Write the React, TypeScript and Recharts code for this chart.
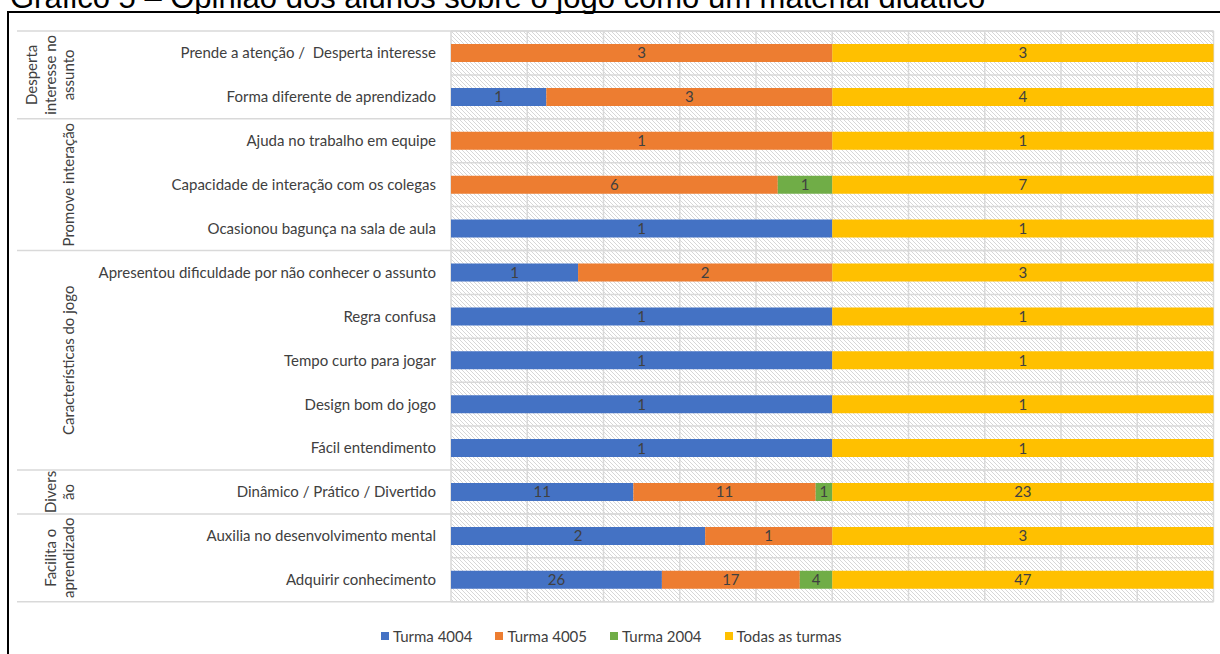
import React from 'react';
import { BarChart, Bar, XAxis, YAxis, CartesianGrid, Legend, LabelList } from 'recharts';

// ---- data ----
const categories = [
  'Prende a atenção /  Desperta interesse',
  'Forma diferente de aprendizado',
  'Ajuda no trabalho em equipe',
  'Capacidade de interação com os colegas',
  'Ocasionou bagunça na sala de aula',
  'Apresentou dificuldade por não conhecer o assunto',
  'Regra confusa',
  'Tempo curto para jogar',
  'Design bom do jogo',
  'Fácil entendimento',
  'Dinâmico / Prático / Divertido',
  'Auxilia no desenvolvimento mental',
  'Adquirir conhecimento',
];
const turma4004 = [0, 1, 0, 0, 1, 1, 1, 1, 1, 1, 11, 2, 26];
const turma4005 = [3, 3, 1, 6, 0, 2, 0, 0, 0, 0, 11, 1, 17];
const turma2004 = [0, 0, 0, 1, 0, 0, 0, 0, 0, 0, 1, 0, 4];
const todasTurmas = [3, 4, 1, 7, 1, 3, 1, 1, 1, 1, 23, 3, 47];

const groupLabels = [
  ['Desperta', 'interesse no', 'assunto'],
  ['Promove interação'],
  ['Características do jogo'],
  ['Divers', 'ão'],
  ['Facilita o', 'aprendizado'],
];
const groupSizes = [2, 3, 5, 1, 2];

const seriesNames = ['Turma 4004', 'Turma 4005', 'Turma 2004', 'Todas as turmas'];
const gridSteps = [0, 0.1, 0.2, 0.3, 0.4, 0.5, 0.6, 0.7, 0.8, 0.9, 1];

const TITLE = 'Gráfico 5 – Opinião dos alunos sobre o jogo como um material didático';

// ---- layout / style ----
const CHART_W = 1211;
const CHART_H = 650;
const LEGEND_H = 46;
const MARGIN = { top: 18, right: 6.5, bottom: 15.3, left: 0 };
const PLOT_RIGHT = CHART_W - MARGIN.right;
const DIVIDER_LEFT = 8;
const GROUP_BASELINE_X = 65;
const GROUP_LINE_GAP = 18.5;
const FONT = "Lato, 'Open Sans', sans-serif";
const FONT_SIZE = 15;
const TEXT_COLOR = '#404040';
const GRID_COLOR = '#d9d9d9';
const COLORS = ['#4472C4', '#ED7D31', '#70AD47', '#FFC000'];
const KEYS = ['t4004', 't4005', 't2004', 'todas'];

const data = categories.map((name, i) => ({
  name,
  t4004: turma4004[i],
  t4005: turma4005[i],
  t2004: turma2004[i],
  todas: todasTurmas[i],
}));

const groupStarts = groupSizes.map((_, g) => groupSizes.slice(0, g).reduce((a, b) => a + b, 0));

function CategoryTick(props: any) {
  const { x, y, payload } = props;
  const i: number = typeof props.index === 'number' ? props.index : payload.index;
  const band = (y - MARGIN.top) / (i + 0.5);
  const top = y - band / 2;
  const parts: React.ReactNode[] = [];
  parts.push(
    <text
      key="label"
      x={x}
      y={y}
      dy="0.36em"
      textAnchor="end"
      fontFamily={FONT}
      fontSize={FONT_SIZE}
      fill={TEXT_COLOR}
      style={{ whiteSpace: 'pre' }}
    >
      {payload.value}
    </text>
  );
  const g = groupStarts.indexOf(i);
  if (g >= 0) {
    parts.push(
      <line key="div" x1={DIVIDER_LEFT} x2={PLOT_RIGHT} y1={top} y2={top} stroke={GRID_COLOR} strokeWidth={1.5} />
    );
    const cy = top + (band * groupSizes[g]) / 2;
    const lines = groupLabels[g];
    lines.forEach((ln, k) => {
      const bx = GROUP_BASELINE_X - (lines.length - 1 - k) * GROUP_LINE_GAP;
      parts.push(
        <text
          key={'g' + k}
          transform={`translate(${bx},${cy}) rotate(-90)`}
          textAnchor="middle"
          fontFamily={FONT}
          fontSize={FONT_SIZE}
          fill={TEXT_COLOR}
        >
          {ln}
        </text>
      );
    });
  }
  if (i === categories.length - 1) {
    const bottom = y + band / 2;
    parts.push(
      <line key="bottom" x1={DIVIDER_LEFT} x2={PLOT_RIGHT} y1={bottom} y2={bottom} stroke={GRID_COLOR} strokeWidth={1.5} />
    );
  }
  return <g>{parts}</g>;
}

function ValueLabel(props: any) {
  const { x, y, width, height, value } = props;
  if (!value) return null;
  return (
    <text
      x={x + width / 2}
      y={y + height / 2}
      dy="0.36em"
      textAnchor="middle"
      fontFamily={FONT}
      fontSize={FONT_SIZE}
      fill={TEXT_COLOR}
    >
      {value}
    </text>
  );
}

function LegendContent() {
  return (
    <div
      style={{
        height: LEGEND_H,
        paddingTop: 22,
        boxSizing: 'border-box',
        display: 'flex',
        justifyContent: 'center',
        alignItems: 'center',
        fontFamily: FONT,
        fontSize: FONT_SIZE,
        color: TEXT_COLOR,
      }}
    >
      {seriesNames.map((n, i) => (
        <div key={n} style={{ display: 'flex', alignItems: 'center', marginRight: i < seriesNames.length - 1 ? 23 : 0 }}>
          <span style={{ width: 8, height: 8, background: COLORS[i], marginRight: 4, display: 'inline-block' }} />
          <span>{n}</span>
        </div>
      ))}
    </div>
  );
}

export default function App() {
  return (
    <div style={{ position: 'absolute', left: 0, top: 0, width: 1220, height: 654, overflow: 'hidden', background: '#fff' }}>
      <svg width={0} height={0} style={{ position: 'absolute' }}>
        <defs>
          <pattern id="hatch" width="4" height="4" patternUnits="userSpaceOnUse">
            <rect width="4" height="4" fill="#ffffff" />
            <path d="M-1,-1 L5,5 M-1,3 L1,5 M3,-1 L5,1" stroke="#d2d2d2" strokeWidth="0.9" />
          </pattern>
        </defs>
      </svg>
      <svg width={1220} height={14} style={{ position: 'absolute', left: 0, top: 0 }}>
        <text x={10} y={8} fontFamily="'Liberation Sans', Arial, sans-serif" fontSize={31} fill="#000">
          {TITLE}
        </text>
      </svg>
      <div
        style={{
          position: 'absolute',
          left: 7,
          top: 11,
          width: 1213,
          height: 660,
          borderTop: '2px solid #000',
          borderLeft: '2px solid #000',
          boxSizing: 'border-box',
        }}
      >
        <BarChart
          width={CHART_W}
          height={CHART_H}
          data={data}
          layout="vertical"
          stackOffset="expand"
          margin={MARGIN}
          barSize={18}
        >
          <CartesianGrid
            stroke={GRID_COLOR}
            strokeWidth={1.5}
            fill="url(#hatch)"
            fillOpacity={1}
            horizontalCoordinatesGenerator={({ offset }: any) =>
              [...categories.map((_, i) => offset.top + (offset.height * i) / categories.length), offset.top + offset.height]
            }
            verticalCoordinatesGenerator={({ offset }: any) => gridSteps.map((p) => offset.left + offset.width * p)}
          />
          <XAxis type="number" hide domain={[0, 1]} ticks={gridSteps} />
          <YAxis
            type="category"
            dataKey="name"
            width={442}
            axisLine={false}
            tickLine={false}
            tickSize={0}
            tickMargin={15}
            interval={0}
            tick={<CategoryTick />}
          />
          <Legend verticalAlign="bottom" content={<LegendContent />} />
          {KEYS.map((k, i) => (
            <Bar key={k} dataKey={k} name={seriesNames[i]} stackId="s" fill={COLORS[i]} isAnimationActive={false}>
              <LabelList dataKey={k} content={<ValueLabel />} />
            </Bar>
          ))}
        </BarChart>
      </div>
    </div>
  );
}
